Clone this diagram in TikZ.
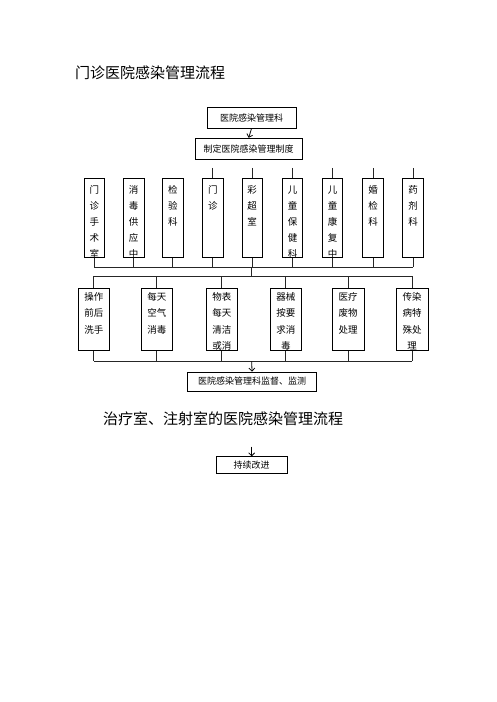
\documentclass[tikz,border=0pt]{standalone}
\usepackage{fontspec}
\setmainfont{Noto Sans CJK SC}
\usetikzlibrary{arrows.meta}
\tikzset{
  box/.style={draw=black, line width=0.8pt, inner sep=0pt, font=\fontsize{9}{10}\selectfont},
  vbox/.style={draw=black, line width=0.8pt, inner sep=0pt, minimum width=20.5pt, minimum height=79.2pt},
  lbox/.style={draw=black, line width=0.8pt, inner sep=0pt, minimum width=31.5pt, minimum height=62.2pt},
  ch/.style={inner sep=0pt, font=\fontsize{9.5}{10}\selectfont},
  lch/.style={inner sep=0pt, font=\fontsize{9.5}{10}\selectfont},
  conn/.style={line width=0.8pt, draw=black!85},
  arr/.style={line width=0.8pt, -{Straight Barb[length=3pt,width=6pt]}},
  ttl/.style={inner sep=0pt, anchor=west, font=\fontsize{15}{16}\selectfont}
}
\begin{document}
\begin{tikzpicture}[x=1pt,y=-1pt]
\useasboundingbox (0,0) rectangle (496,702);
% titles
\node[ttl] (t1) at (75,73) {门诊医院感染管理流程};
\node[ttl] (t2) at (103,419) {治疗室、注射室的医院感染管理流程};
% top boxes
\node[box, minimum width=89pt, minimum height=21pt] (b1) at (251.5,117.7) {医院感染管理科};
\node[box, minimum width=107pt, minimum height=21pt] (b2) at (248.7,148.7) {制定医院感染管理制度};
\draw[arr] (b1.south) -- (b2.north);
% vertical boxes
\foreach \n/\x/\txt in {1/94.3/{门,诊,手,术,室},2/133.7/{消,毒,供,应,中},3/172.8/{检,验,科},4/212.8/{门,诊},5/252.2/{彩,超,室},6/292.5/{儿,童,保,健,科},7/332.5/{儿,童,康,复,中},8/373/{婚,检,科},9/413/{药,剂,科}}{
  \node[vbox] (v\n) at (\x,217.9) {};
  \begin{scope}
    \clip ([shift={(0.4pt,-0.4pt)}]v\n.south west) rectangle ([shift={(-0.4pt,0.4pt)}]v\n.north east);
    \foreach \c [count=\i] in \txt {
      \node[ch] (v\n c\i) at (\x,{189.8+(\i-1)*15.9}) {\c};
    }
  \end{scope}
  \coordinate (vb\n) at (\x,267.2);
}
% stubs above boxes 4-9
\foreach \n in {4,...,9}{
  \coordinate (st\n) at ([yshift=10pt]v\n.north);
  \draw[conn] (st\n) -- (v\n.north);
}
% bottom collector
\foreach \n in {1,...,9}{
  \draw[conn] (v\n.south) -- (vb\n);
}
\draw[conn] (vb1) -- (vb9);
\coordinate (m1) at (251.7,267.2);
\coordinate (m2) at (251.7,276.3);
\draw[conn] (m1) -- (m2);
% lower boxes
\foreach \n/\x/\txt in {1/93.8/{操作,前后,洗手},2/156.8/{每天,空气,消毒},3/221.8/{物表,每天,清洁,或消},4/285.8/{器械,按要,求消,毒},5/348.2/{医疗,废物,处理},6/412.2/{传染,病特,殊处,理}}{
  \node[lbox] (w\n) at (\x,319.4) {};
  \begin{scope}
    \clip ([shift={(0.4pt,-0.4pt)}]w\n.south west) rectangle ([shift={(-0.4pt,0.4pt)}]w\n.north east);
    \foreach \c [count=\i] in \txt {
      \node[lch] (w\n c\i) at (\x,{296.5+(\i-1)*16.6}) {\c};
    }
  \end{scope}
  \coordinate (wt\n) at (\x,276.3);
  \coordinate (wb\n) at (\x,361.3);
  \draw[conn] (wt\n) -- (w\n.north);
  \draw[conn] (w\n.south) -- (wb\n);
}
\draw[conn] (wt1) -- (wt6);
\draw[conn] (wb1) -- (wb6);
% supervision box
\node[box, minimum width=129.5pt, minimum height=19pt] (b3) at (252,381.5) {医院感染管理科监督、监测};
\coordinate (m3) at (251.7,361.3);
\draw[arr] (m3) -- (b3.north);
% continuous improvement
\node[box, minimum width=71.5pt, minimum height=16.5pt] (b4) at (251.7,465) {持续改进};
\coordinate (m4) at (251.7,446.5);
\draw[arr] (m4) -- (b4.north);
\end{tikzpicture}
\end{document}
